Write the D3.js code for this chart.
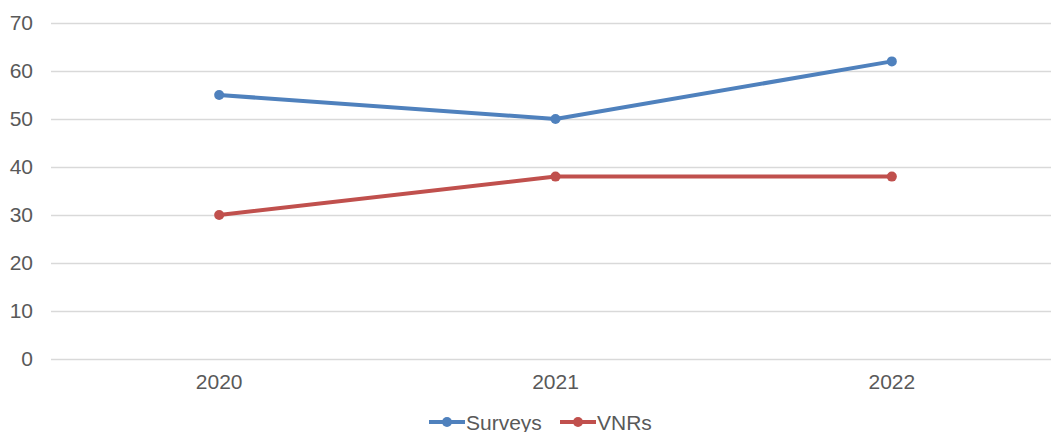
<!DOCTYPE html>
<html>
<head>
<meta charset="utf-8">
<script src="https://cdn.jsdelivr.net/npm/d3@7"></script>
<style>
  body { margin: 0; background: #fff; }
  svg { display: block; font-family: "Liberation Sans", Arial, sans-serif; }
</style>
</head>
<body>
<svg id="chart"></svg>
<script>
// данные
const years = ["2020", "2021", "2022"];
const surveys = [55, 50, 62];
const vnrs = [30, 38, 38];
const yTicks = [0, 10, 20, 30, 40, 50, 60, 70];

const width = 1051;
const height = 432;
const plotLeft = 51, plotRight = 1060, plotTop = 23, plotBottom = 359;

const svg = d3.select("#chart")
  .attr("width", width)
  .attr("height", height);

const scX = d3.scaleBand().domain(years).range([plotLeft, plotRight]);
const scY = d3.scaleLinear().domain([0, 70]).range([plotBottom, plotTop]);

// сетка
svg.append("g")
  .attr("transform", `translate(${plotLeft}, 0)`)
  .call(d3.axisLeft(scY).tickValues(yTicks).tickSize(-(plotRight - plotLeft)).tickPadding(18))
  .call(g => g.select(".domain").remove())
  .call(g => g.selectAll("line").attr("stroke", "#d9d9d9").attr("stroke-width", 1.5))
  .call(g => g.selectAll("text").attr("fill", "#595959").style("font-size", "21px"));

// ось X
svg.append("g")
  .attr("transform", `translate(0, ${plotBottom})`)
  .call(d3.axisBottom(scX).tickSize(0).tickPadding(15))
  .call(g => g.select(".domain").remove())
  .call(g => g.selectAll("text").attr("fill", "#595959").style("font-size", "21px"));

const series = [
  { name: "Surveys", values: surveys, color: "#4f81bd" },
  { name: "VNRs", values: vnrs, color: "#c0504d" }
];

const line = d3.line()
  .x((d, i) => scX(years[i]) + scX.bandwidth() / 2)
  .y(d => scY(d));

series.forEach(s => {
  svg.append("path")
    .datum(s.values)
    .attr("d", line)
    .attr("fill", "none")
    .attr("stroke", s.color)
    .attr("stroke-width", 4)
    .attr("stroke-linejoin", "round");
  svg.selectAll(null)
    .data(s.values)
    .enter()
    .append("circle")
    .attr("cx", (d, i) => scX(years[i]) + scX.bandwidth() / 2)
    .attr("cy", d => scY(d))
    .attr("r", 5)
    .attr("fill", s.color);
});

// легенда (внизу, как в оригинале — обрезана краем)
const legendX = [429, 560];
series.forEach((s, i) => {
  const g = svg.append("g").attr("transform", `translate(${legendX[i]}, 422)`);
  g.append("line").attr("x1", 0).attr("x2", 36).attr("stroke", s.color).attr("stroke-width", 4);
  g.append("circle").attr("cx", 18).attr("r", 5).attr("fill", s.color);
  g.append("text").attr("x", 37).attr("y", 8).attr("fill", "#595959")
    .style("font-size", "21px").text(s.name);
});
</script>
</body>
</html>
